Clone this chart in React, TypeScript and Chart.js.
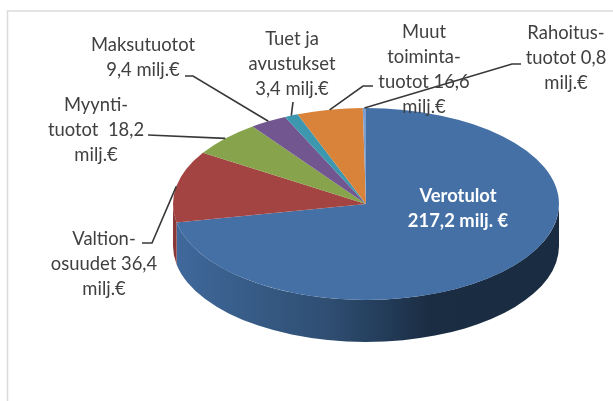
import React, { useEffect, useRef } from "react";
import { Chart, registerables } from "chart.js";

Chart.register(...registerables);

const categories = ["Verotulot", "Valtionosuudet", "Myyntituotot", "Maksutuotot", "Tuet ja avustukset", "Muut toimintatuotot", "Rahoitustuotot"];
const values = [217.2, 36.4, 18.2, 9.4, 3.4, 16.6, 0.8];
const labelLines = [
  ["Verotulot", "217,2 milj. €"],
  ["Valtion-", "osuudet 36,4", "milj.€"],
  ["Myynti-", "tuotot  18,2", "milj.€"],
  ["Maksutuotot", "9,4 milj.€"],
  ["Tuet ja", "avustukset", "3,4 milj.€"],
  ["Muut", "toiminta-", "tuotot 16,6", "milj.€"],
  ["Rahoitus-", "tuotot 0,8", "milj.€"],
];

const sliceColors = ["#4470a6", "#a34442", "#87a44c", "#725690", "#3d97ae", "#d9833a", "#7c9fcf"];
const wallRed = "#8a3836";

// Label layout: text centre x, first-line centre y, line step, and the elbow of each leader line.
const labelLayout = [
  { x: 458, y: 196, step: 25, leader: [] as number[][] },
  { x: 104, y: 239, step: 25, leader: [[142, 243], [152, 243]] },
  { x: 96, y: 105, step: 25, leader: [[148, 135]] },
  { x: 143, y: 45, step: 25, leader: [[185, 76], [193, 76]] },
  { x: 292, y: 39, step: 25, leader: [[293, 102]] },
  { x: 424, y: 32, step: 25, leader: [[373, 86], [363, 86]] },
  { x: 566, y: 33, step: 25, leader: [[521, 64], [512, 64]] },
];

const SQUASH = 0.497;
const DEPTH = 42;
const CENTER_Y = 204;

const pie3d = {
  id: "pie3d",
  beforeDatasetsDraw(chart: any) {
    const { ctx } = chart;
    const arcs = chart.getDatasetMeta(0).data;
    const cx = arcs[0].x;
    const rx = arcs[0].outerRadius;
    const ry = rx * SQUASH;

    // chart frame
    ctx.save();
    ctx.strokeStyle = "#dcdcdc";
    ctx.lineWidth = 1.5;
    ctx.strokeRect(7.5, 11, 800, 600);

    // side wall
    const grad = ctx.createLinearGradient(cx - rx, 0, cx + rx, 0);
    grad.addColorStop(0, "#41699c");
    grad.addColorStop(0.12, "#3a618f");
    grad.addColorStop(0.4, "#2f4e72");
    grad.addColorStop(0.55, "#233c59");
    grad.addColorStop(0.66, "#1b2d43");
    grad.addColorStop(1, "#1a2c42");
    arcs.forEach((arc: any, i: number) => {
      const a0 = Math.max(arc.startAngle, 0);
      const a1 = Math.min(arc.endAngle, Math.PI);
      if (a1 <= a0) return;
      ctx.beginPath();
      ctx.ellipse(cx, CENTER_Y, rx, ry, 0, a0, a1);
      ctx.ellipse(cx, CENTER_Y + DEPTH, rx, ry, 0, a1, a0, true);
      ctx.closePath();
      ctx.fillStyle = i === 0 ? grad : wallRed;
      ctx.fill();
    });
    ctx.restore();

    // squash the library's own arcs into the top ellipse
    ctx.save();
    ctx.translate(0, CENTER_Y);
    ctx.scale(1, SQUASH);
    ctx.translate(0, -arcs[0].y);
  },
  afterDatasetsDraw(chart: any) {
    const { ctx } = chart;
    ctx.restore();
    const arcs = chart.getDatasetMeta(0).data;

    ctx.save();
    ctx.textAlign = "center";
    ctx.textBaseline = "middle";
    arcs.forEach((arc: any, i: number) => {
      const layout = labelLayout[i];
      if (layout.leader.length) {
        const mid = (arc.startAngle + arc.endAngle) / 2;
        const ex = arc.x + arc.outerRadius * Math.cos(mid);
        const ey = CENTER_Y + arc.outerRadius * SQUASH * Math.sin(mid);
        ctx.beginPath();
        layout.leader.forEach((p: number[], k: number) => (k ? ctx.lineTo(p[0], p[1]) : ctx.moveTo(p[0], p[1])));
        ctx.lineTo(ex, ey);
        ctx.strokeStyle = "#383838";
        ctx.lineWidth = 1.6;
        ctx.stroke();
      }
    });
    arcs.forEach((_: any, i: number) => {
      const layout = labelLayout[i];
      ctx.font = i === 0 ? "bold 18.4px Lato" : "18.4px Lato";
      ctx.fillStyle = i === 0 ? "#ffffff" : "#404040";
      labelLines[i].forEach((line, k) => ctx.fillText(line, layout.x, layout.y + k * layout.step));
    });
    ctx.restore();
  },
};

export default function App() {
  const ref = useRef<HTMLCanvasElement>(null);
  useEffect(() => {
    const chart = new Chart(ref.current!, {
      type: "pie",
      data: {
        labels: categories,
        datasets: [{ data: values, backgroundColor: sliceColors, borderWidth: 0 }],
      },
      options: {
        responsive: false,
        animation: false,
        layout: { padding: { left: 173, right: 54, top: 8, bottom: 7 } },
        plugins: { legend: { display: false }, tooltip: { enabled: false } },
      },
      plugins: [pie3d],
    } as any);
    return () => chart.destroy();
  }, []);
  return (
    <div style={{ position: "absolute", left: 0, top: 0, width: 613, height: 401, overflow: "hidden", background: "#fff" }}>
      <canvas ref={ref} width={613} height={401} style={{ display: "block", filter: "blur(0.45px)" }} />
    </div>
  );
}
